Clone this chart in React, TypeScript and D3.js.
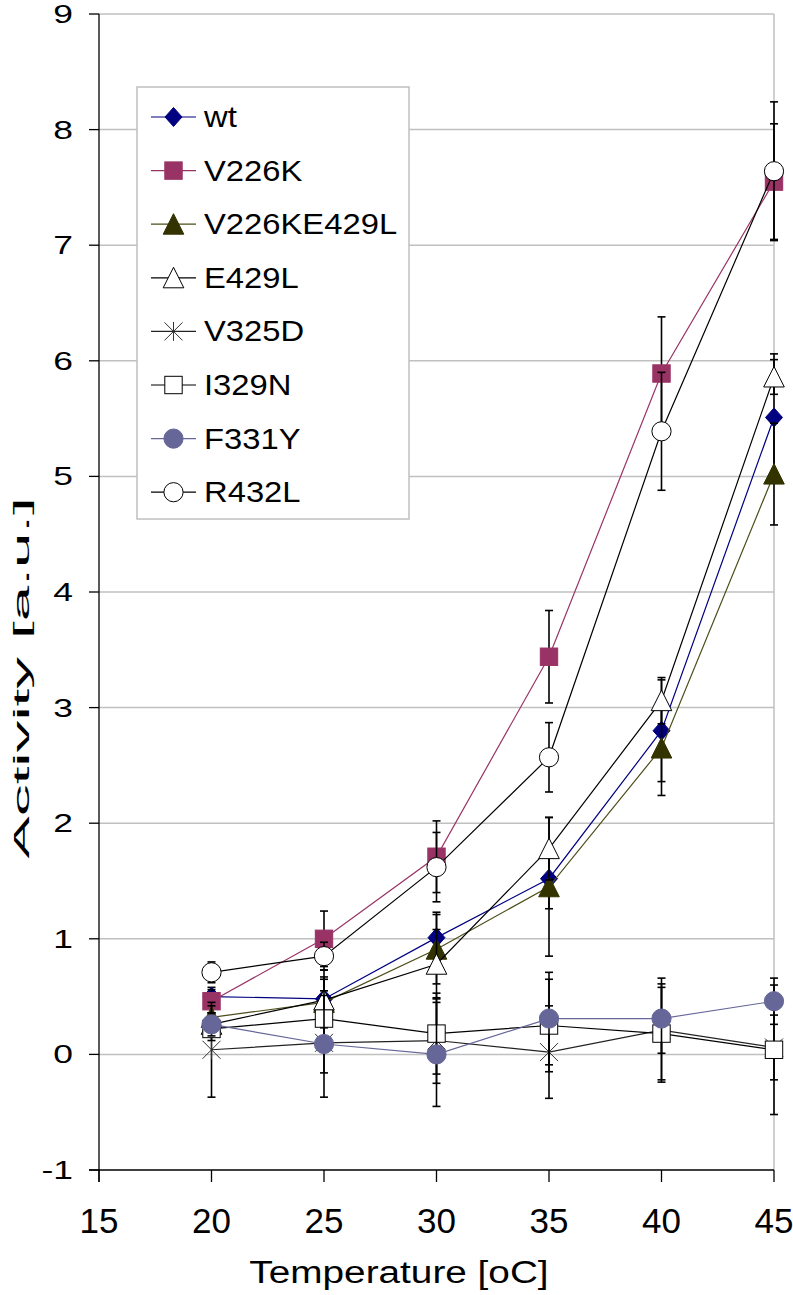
import React from 'react';
import * as d3 from 'd3';

const temps = [20, 25, 30, 35, 40, 45];
const xTicks = [15, 20, 25, 30, 35, 40, 45];
const yTicks = [-1, 0, 1, 2, 3, 4, 5, 6, 7, 8, 9];

const seriesNames = ['wt', 'V226K', 'V226KE429L', 'E429L', 'V325D', 'I329N', 'F331Y', 'R432L'];

const wtVals = [0.5, 0.48, 1.01, 1.52, 2.8, 5.51];
const wtErr = [0.08, 0.25, 0.22, 0.26, 0.44, 0.55];
const v226kVals = [0.46, 1.0, 1.71, 3.44, 5.89, 7.55];
const v226kErr = [0.1, 0.24, 0.31, 0.4, 0.49, 0.5];
const v226ke429lVals = [0.32, 0.45, 0.91, 1.45, 2.65, 5.02];
const v226ke429lErr = [0.1, 0.2, 0.3, 0.6, 0.41, 0.44];
const e429lVals = [0.26, 0.47, 0.78, 1.78, 3.06, 5.86];
const e429lErr = [0.1, 0.2, 0.3, 0.27, 0.2, 0.15];
const v325dVals = [0.04, 0.1, 0.12, 0.02, 0.21, 0.06];
const v325dErr = [0.41, 0.26, 0.37, 0.4, 0.45, 0.28];
const i329nVals = [0.22, 0.31, 0.18, 0.25, 0.18, 0.04];
const i329nErr = [0.1, 0.2, 0.35, 0.4, 0.4, 0.56];
const f331yVals = [0.26, 0.09, 0.0, 0.31, 0.31, 0.46];
const f331yErr = [0.1, 0.46, 0.45, 0.4, 0.3, 0.2];
const r432lVals = [0.71, 0.85, 1.62, 2.57, 5.39, 7.64];
const r432lErr = [0.09, 0.12, 0.3, 0.3, 0.51, 0.6];

type Shape = 'diamond' | 'square' | 'triangle' | 'star' | 'circle';
interface Series { name: string; vals: number[]; err: number[]; line: string; shape: Shape; fill: string; stroke: string; }

const series: Series[] = [
  { name: seriesNames[0], vals: wtVals, err: wtErr, line: '#000080', shape: 'diamond', fill: '#000080', stroke: '#000080' },
  { name: seriesNames[1], vals: v226kVals, err: v226kErr, line: '#993366', shape: 'square', fill: '#993366', stroke: '#993366' },
  { name: seriesNames[2], vals: v226ke429lVals, err: v226ke429lErr, line: '#4d4d1a', shape: 'triangle', fill: '#333300', stroke: '#333300' },
  { name: seriesNames[3], vals: e429lVals, err: e429lErr, line: '#000000', shape: 'triangle', fill: '#ffffff', stroke: '#000000' },
  { name: seriesNames[4], vals: v325dVals, err: v325dErr, line: '#222222', shape: 'star', fill: 'none', stroke: '#333333' },
  { name: seriesNames[5], vals: i329nVals, err: i329nErr, line: '#000000', shape: 'square', fill: '#ffffff', stroke: '#000000' },
  { name: seriesNames[6], vals: f331yVals, err: f331yErr, line: '#666699', shape: 'circle', fill: '#666699', stroke: '#666699' },
  { name: seriesNames[7], vals: r432lVals, err: r432lErr, line: '#000000', shape: 'circle', fill: '#ffffff', stroke: '#000000' },
];

const W = 793, H = 1295;
const L = 99, R = 774, T = 14, B = 1170;
const FONT = 'Liberation Sans, Arial, sans-serif';

function Marker({ shape, cx, cy, fill, stroke }: { shape: Shape; cx: number; cy: number; fill: string; stroke: string }) {
  if (shape === 'diamond') {
    return <polygon points={`${cx},${cy - 9.5} ${cx + 8.5},${cy} ${cx},${cy + 9.5} ${cx - 8.5},${cy}`} fill={fill} stroke={stroke} strokeWidth={1} />;
  }
  if (shape === 'square') {
    return <rect x={cx - 8.7} y={cy - 8.7} width={17.4} height={17.4} fill={fill} stroke={stroke} strokeWidth={1} />;
  }
  if (shape === 'triangle') {
    return <polygon points={`${cx},${cy - 10.5} ${cx + 10.3},${cy + 10} ${cx - 10.3},${cy + 10}`} fill={fill} stroke={stroke} strokeWidth={1} />;
  }
  if (shape === 'circle') {
    return <circle cx={cx} cy={cy} r={9.6} fill={fill} stroke={stroke} strokeWidth={1} />;
  }
  return (
    <g stroke={stroke} strokeWidth={1}>
      <line x1={cx} y1={cy - 9.5} x2={cx} y2={cy + 9.5} />
      <line x1={cx - 9} y1={cy - 9} x2={cx + 9} y2={cy + 9} />
      <line x1={cx - 9} y1={cy + 9} x2={cx + 9} y2={cy - 9} />
    </g>
  );
}

export default function App() {
  const x = d3.scaleLinear().domain([15, 45]).range([L, R]);
  const y = d3.scaleLinear().domain([-1, 9]).range([B, T]);
  const lineGen = d3.line<number>().x((_, i) => x(temps[i])).y((d) => y(d));

  const legX = 137, legY = 87, legW = 272, legH = 432;
  const legStep = 53.6;

  return (
    <svg width={W} height={H} style={{ position: 'absolute', left: 0, top: 0, background: '#fff' }} fontFamily={FONT}>
      <rect x={0} y={0} width={W} height={H} fill="#fff" />
      {/* gridlines */}
      {yTicks.filter((t) => t > -1).map((t) => (
        <line key={'g' + t} x1={L} x2={R} y1={y(t)} y2={y(t)} stroke="#c0c0c0" strokeWidth={1.5} />
      ))}
      <line x1={R} x2={R} y1={T} y2={B} stroke="#c0c0c0" strokeWidth={1.5} />

      {/* axes */}
      <line x1={L} x2={L} y1={T} y2={B + 12} stroke="#000" strokeWidth={1.3} />
      <line x1={L - 10} x2={R} y1={B} y2={B} stroke="#000" strokeWidth={1.3} />
      {yTicks.map((t) => (
        <g key={'yt' + t}>
          <line x1={L - 10} x2={L} y1={y(t)} y2={y(t)} stroke="#000" strokeWidth={1.3} />
          <text transform={`translate(73,${y(t) + 9}) scale(1.39,1)`} textAnchor="end" fontSize={25.5} fill="#000">{t}</text>
        </g>
      ))}
      {xTicks.map((t) => (
        <g key={'xt' + t}>
          <line x1={x(t)} x2={x(t)} y1={B} y2={B + 12} stroke="#000" strokeWidth={1.3} />
          <text x={x(t)} y={1233} textAnchor="middle" fontSize={35} fill="#000">{t}</text>
        </g>
      ))}
      <text transform="translate(399,1283) scale(1.25,1)" textAnchor="middle" fontSize={31} fill="#000">Temperature [oC]</text>
      <text transform="translate(29,678) rotate(-90) scale(2.9,1)" textAnchor="middle" fontSize={22} fill="#000">Activity [a.u.]</text>

      {/* series */}
      {series.map((s) => (
        <g key={s.name}>
          <path d={lineGen(s.vals) || ''} fill="none" stroke={s.line} strokeWidth={1.2} />
          {s.vals.map((v, i) => (
            <g key={i} stroke="#000" strokeWidth={1.6}>
              <line x1={x(temps[i])} x2={x(temps[i])} y1={y(v - s.err[i])} y2={y(v + s.err[i])} />
              <line x1={x(temps[i]) - 4} x2={x(temps[i]) + 4} y1={y(v - s.err[i])} y2={y(v - s.err[i])} />
              <line x1={x(temps[i]) - 4} x2={x(temps[i]) + 4} y1={y(v + s.err[i])} y2={y(v + s.err[i])} />
            </g>
          ))}
          {s.vals.map((v, i) => (
            <Marker key={'m' + i} shape={s.shape} cx={x(temps[i])} cy={y(v)} fill={s.fill} stroke={s.stroke} />
          ))}
        </g>
      ))}

      {/* legend */}
      <rect x={legX} y={legY} width={legW} height={legH} fill="#fff" stroke="#c0c0c0" strokeWidth={1.5} />
      {series.map((s, i) => {
        const cy = legY + 30 + i * legStep;
        return (
          <g key={'leg' + s.name}>
            <line x1={151} x2={196} y1={cy} y2={cy} stroke={s.line} strokeWidth={1.2} />
            <Marker shape={s.shape} cx={173.5} cy={cy} fill={s.fill} stroke={s.stroke} />
            <text transform={`translate(204,${cy + 10}) scale(1.13,1)`} fontSize={29} fill="#000">{s.name}</text>
          </g>
        );
      })}
    </svg>
  );
}
